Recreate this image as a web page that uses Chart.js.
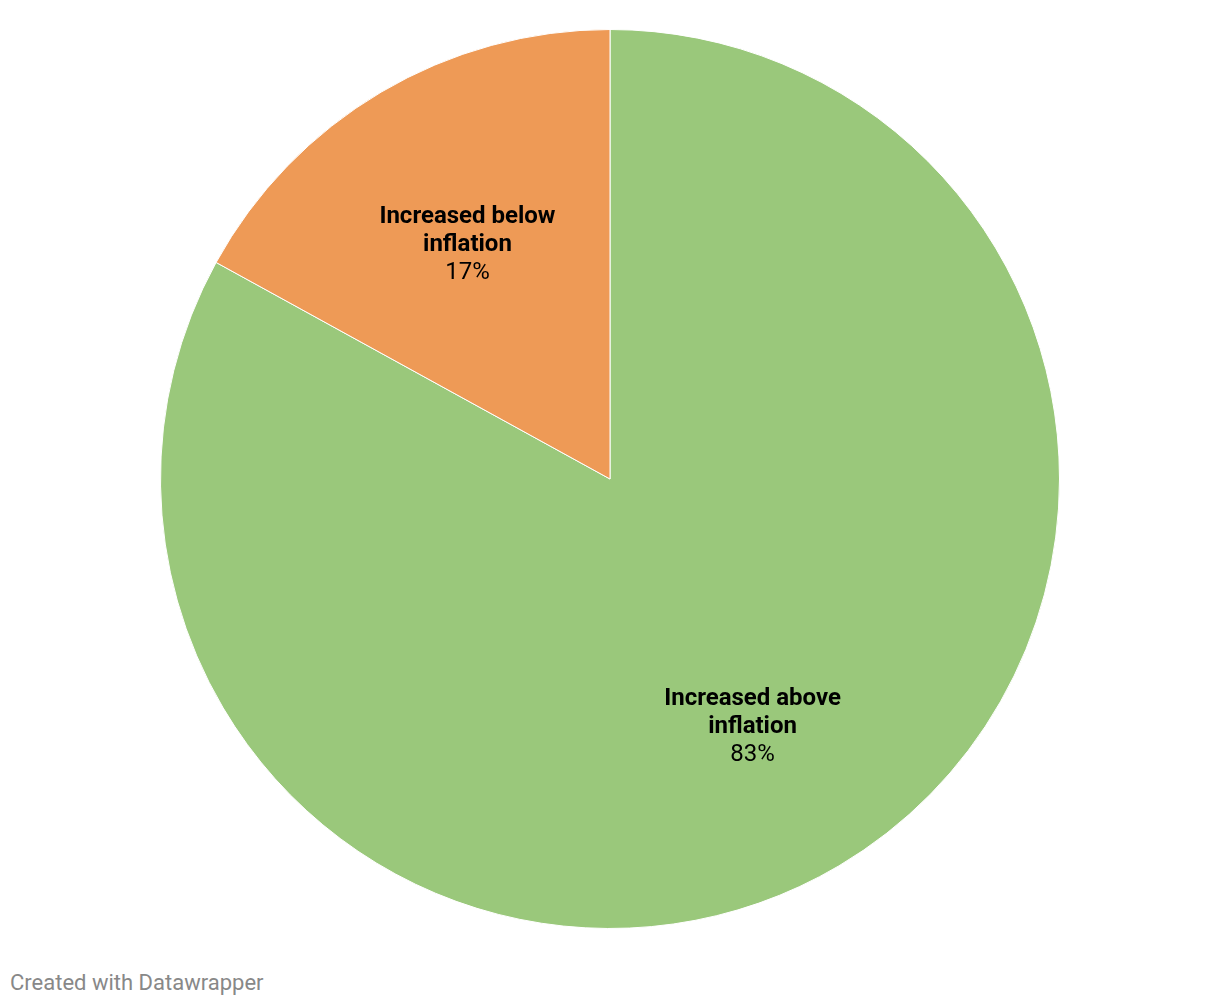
<!DOCTYPE html>
<html>
<head>
<meta charset="utf-8">
<script src="https://cdn.jsdelivr.net/npm/chart.js@4"></script>
<style>
  html, body { margin: 0; padding: 0; background: #fff; }
  body { width: 1220px; height: 1006px; position: relative; font-family: Roboto, sans-serif; }
  #wrap { position: absolute; left: 0; top: 29px; width: 1220px; height: 900px; }
  #credit { position: absolute; left: 10px; top: 970px; font-size: 22px; line-height: 26px; color: #888; }
</style>
</head>
<body>
<div id="wrap"><canvas id="pie"></canvas></div>
<div id="credit">Created with Datawrapper</div>
<script>
const categories = ['Increased above inflation', 'Increased below inflation'];
const shares = [83, 17];
const sliceColors = ['#9ac87b', '#ee9a56'];

// split a label onto two lines like the original
function splitLabel(text) {
    const words = text.split(' ');
    return [words.slice(0, 2).join(' '), words.slice(2).join(' ')];
}

const sliceLabels = {
    id: 'sliceLabels',
    afterDatasetsDraw(chart) {
        const ctx = chart.ctx;
        const meta = chart.getDatasetMeta(0);
        ctx.save();
        ctx.textAlign = 'center';
        ctx.textBaseline = 'middle';
        ctx.fillStyle = '#000';
        meta.data.forEach((arc, i) => {
            const mid = (arc.startAngle + arc.endAngle) / 2;
            const r = arc.outerRadius * 0.623;
            const x = arc.x + Math.cos(mid) * r;
            const y = arc.y + Math.sin(mid) * r + 7;
            const lines = splitLabel(categories[i]);
            ctx.font = 'bold 24px Roboto';
            ctx.fillText(lines[0], x, y - 28);
            ctx.fillText(lines[1], x, y);
            ctx.font = '24px Roboto';
            ctx.fillText(shares[i] + '%', x, y + 28);
        });
        ctx.restore();
    }
};

new Chart(document.getElementById('pie'), {
    type: 'pie',
    data: {
        labels: categories,
        datasets: [{
            data: shares,
            backgroundColor: sliceColors,
            borderColor: '#fff',
            borderWidth: 1
        }]
    },
    options: {
        responsive: true,
        maintainAspectRatio: false,
        animation: false,
        layout: { padding: 0 },
        plugins: {
            legend: { display: false },
            tooltip: { enabled: false }
        }
    },
    plugins: [sliceLabels]
});
</script>
</body>
</html>
